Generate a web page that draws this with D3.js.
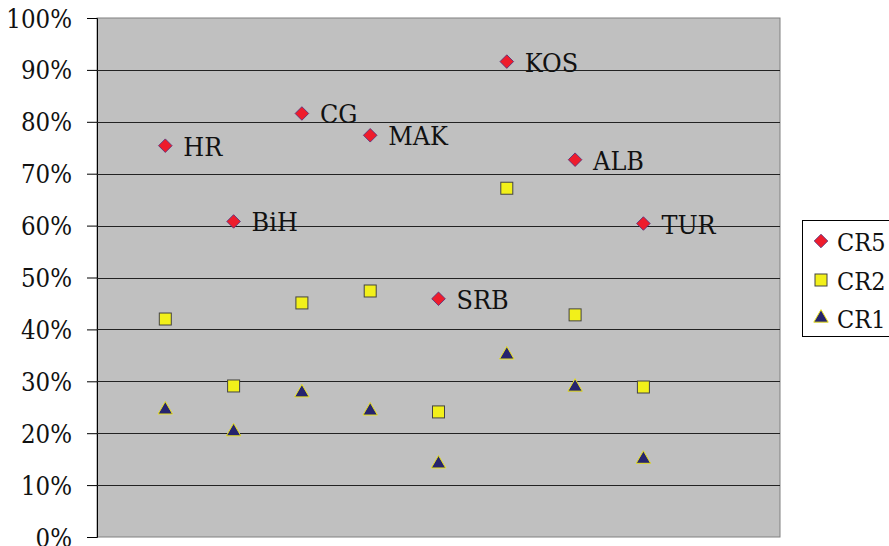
<!DOCTYPE html>
<html><head><meta charset="utf-8">
<script src="https://cdn.jsdelivr.net/npm/d3@7"></script>
<style>body{margin:0;background:#fff}svg{display:block}</style>
</head><body>
<script>
const categories = ["HR","BiH","CG","MAK","SRB","KOS","ALB","TUR"];
const cr5 = [75.4, 60.8, 81.6, 77.4, 45.9, 91.6, 72.7, 60.4];
const cr2 = [42.0, 29.1, 45.1, 47.4, 24.1, 67.2, 42.8, 28.9];
const cr1 = [24.5, 20.3, 27.8, 24.3, 14.1, 35.1, 28.9, 15.0];
const yTicks = [0,10,20,30,40,50,60,70,80,90,100];
const seriesNames = ["CR5","CR2","CR1"];

const W=889,H=546;
const svg=d3.select("body").append("svg").attr("width",W).attr("height",H);
const L=97,R=780,T=18,B=537;
const x=d3.scaleLinear().domain([0,categories.length+2]).range([L,R]);
const y=d3.scaleLinear().domain([0,100]).range([B,T]);
const font="DejaVu Serif";

svg.append("rect").attr("x",L).attr("y",T).attr("width",R-L).attr("height",B-T)
  .attr("fill","#c0c0c0").attr("stroke","#808080").attr("stroke-width",1);

const yAxis=d3.axisLeft(y).tickValues(yTicks).tickFormat(d=>d+"%").tickSize(10);
const g=svg.append("g").attr("transform",`translate(${L},0)`).call(yAxis);
g.select(".domain").attr("stroke","#000");
g.selectAll(".tick line").attr("stroke","#000");
g.selectAll(".tick text").attr("font-family",font).attr("font-size",23).attr("fill","#111")
  .attr("x",null).attr("dy",null).attr("text-anchor","end")
  .attr("transform","translate(-25,9) scale(1,1.12)");
// gridlines
svg.append("g").selectAll("line").data(yTicks.filter(d=>d>0&&d<100)).join("line")
  .attr("x1",L).attr("x2",R).attr("y1",d=>Math.round(y(d))+0.5).attr("y2",d=>Math.round(y(d))+0.5)
  .attr("stroke","#222").attr("stroke-width",1.2);

const xi=i=>x(i+1);

// CR1 triangles
svg.append("g").selectAll("path").data(cr1).join("path")
  .attr("d",d3.symbol().type(d3.symbolTriangle).size(90)())
  .attr("transform",(d,i)=>`translate(${xi(i)},${y(d)})`)
  .attr("fill","#26246e").attr("stroke","#e8e020").attr("stroke-width",1);
// CR2 squares
svg.append("g").selectAll("rect").data(cr2).join("rect")
  .attr("x",(d,i)=>xi(i)-6).attr("y",d=>y(d)-6).attr("width",12).attr("height",12)
  .attr("fill","#f2f01a").attr("stroke","#444").attr("stroke-width",1);
// CR5 diamonds
svg.append("g").selectAll("path").data(cr5).join("path")
  .attr("d",d3.symbol().type(d3.symbolSquare).size(92)())
  .attr("transform",(d,i)=>`translate(${xi(i)},${y(d)}) rotate(45)`)
  .attr("fill","#ee1c2c").attr("stroke","#55307a").attr("stroke-width",0.8);
// labels
svg.append("g").selectAll("text").data(cr5).join("text")
  .attr("transform",(d,i)=>`translate(${xi(i)+18},${y(d)+10}) scale(1,1.05)`)
  .attr("font-family",font).attr("font-size",24).attr("fill","#111")
  .text((d,i)=>categories[i]);

// legend
const lg=svg.append("g");
lg.append("rect").attr("x",802.5).attr("y",220.5).attr("width",100).attr("height",116)
  .attr("fill","#fff").attr("stroke","#000").attr("stroke-width",1);
const ly=[241,280,318];
lg.append("path").attr("d",d3.symbol().type(d3.symbolSquare).size(92)())
  .attr("transform",`translate(821,${ly[0]}) rotate(45)`).attr("fill","#ee1c2c").attr("stroke","#55307a").attr("stroke-width",0.8);
lg.append("rect").attr("x",815).attr("y",ly[1]-6).attr("width",12).attr("height",12)
  .attr("fill","#f2f01a").attr("stroke","#444");
lg.append("path").attr("d",d3.symbol().type(d3.symbolTriangle).size(90)())
  .attr("transform",`translate(821,${ly[2]})`).attr("fill","#26246e").attr("stroke","#e8e020");
lg.selectAll("text").data(seriesNames).join("text")
  .attr("transform",(d,i)=>`translate(837,${ly[i]+10}) scale(1,1.1)`)
  .attr("font-family",font).attr("font-size",22.5).attr("fill","#111").text(d=>d);
</script>
</body></html>
